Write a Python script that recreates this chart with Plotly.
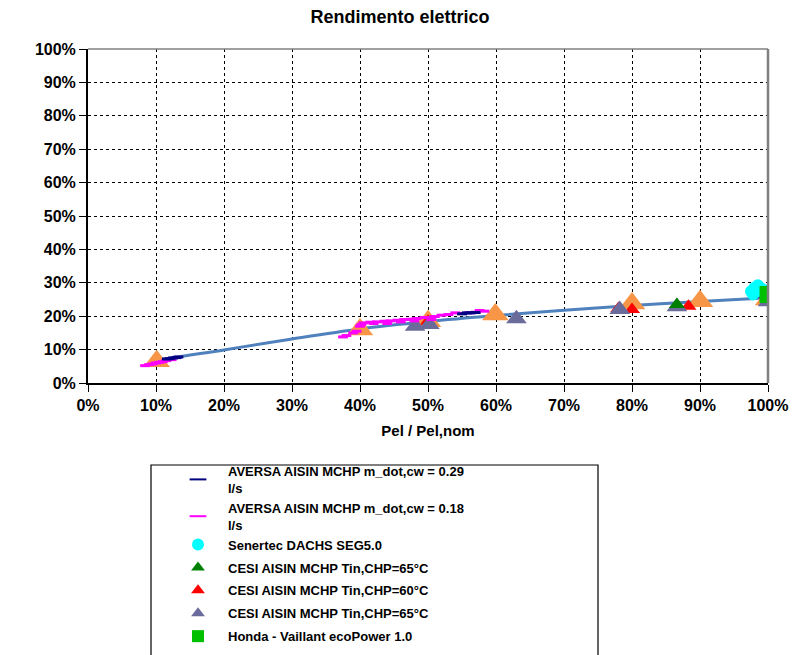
import plotly.graph_objects as go

# ---- data (percent) ----
fit_x = [8.5, 10, 20, 30, 40, 50, 60, 70, 80, 90, 100]
fit_y = [5.3, 6.5, 9.9, 13.2, 16.2, 18.4, 20.2, 21.8, 23.2, 24.4, 25.5]

orange_x = [10.1, 40, 50, 59.9, 80, 90, 100]
orange_y = [6.5, 16.0, 18.5, 20.5, 23.8, 24.5, 25.0]

aversa029_x = [11.6, 12.0, 12.5, 13.0, 13.3, 55.0, 55.7, 56.3, 57.0, 97.8, 98.2]
aversa029_y = [7.2, 7.3, 7.5, 7.6, 7.8, 20.7, 21.0, 21.0, 21.1, 25.8, 26.0]

aversa018_x = [8.4, 9.0, 9.5, 10.0, 10.5, 11.0, 11.5, 12.3,
               37.5, 38.0, 39.0, 39.5, 40.0, 40.5, 41.5, 42.5, 43.6, 44.5, 45.5,
               46.5, 47.5, 48.3, 49.5, 51.0, 52.0, 53.0, 54.0, 55.0, 56.0, 57.0, 57.6, 58.3,
               40.2, 42.0, 44.0, 46.0, 48.0, 50.5, 98.5, 99.0]
aversa018_y = [5.2, 5.5, 5.7, 6.0, 6.2, 6.4, 6.7, 7.0,
               13.8, 14.2, 15.0, 15.5, 17.0, 18.0, 18.2, 18.3, 18.5, 18.6, 18.8,
               19.0, 19.1, 19.3, 19.6, 19.9, 20.3, 20.5, 21.0, 20.8, 21.0, 21.2, 21.7, 21.5,
               17.5, 17.8, 17.8, 18.3, 18.6, 19.0, 25.8, 26.2]

senertec_x = [97.5, 97.8, 98.0, 98.5, 99.0, 99.5, 100.0, 98.3]
senertec_y = [27.5, 26.5, 28.5, 29.3, 28.3, 27.0, 27.8, 27.3]

cesi_green_x = [86.6]
cesi_green_y = [23.5]

cesi_red_x = [50.0, 78.0, 80.0, 88.3]
cesi_red_y = [18.5, 22.3, 22.0, 23.0]

cesi_slate_x = [48.1, 50.2, 63.0, 78.2, 86.6, 100.0]
cesi_slate_y = [17.0, 17.5, 19.2, 22.0, 22.8, 24.3]

honda_x = [100.0]
honda_y = [26.5]

x_ticks = [0, 10, 20, 30, 40, 50, 60, 70, 80, 90, 100]
y_ticks = [0, 10, 20, 30, 40, 50, 60, 70, 80, 90, 100]

name_a029 = "<b>AVERSA AISIN MCHP m_dot,cw = 0.29<br>l/s</b>"
name_a018 = "<b>AVERSA AISIN MCHP m_dot,cw = 0.18<br>l/s</b>"
name_sen = "<b>Senertec DACHS SEG5.0</b>"
name_green = "<b>CESI AISIN MCHP Tin,CHP=65°C</b>"
name_red = "<b>CESI AISIN MCHP Tin,CHP=60°C</b>"
name_slate = "<b>CESI AISIN MCHP Tin,CHP=65°C</b>"
name_honda = "<b>Honda - Vaillant ecoPower 1.0</b>"

FONT = "Liberation Sans, Arial, sans-serif"

fig = go.Figure()

fig.add_trace(go.Scatter(x=fit_x, y=fit_y, mode="lines", line=dict(color="#4F81BD", width=3, shape="spline"),
                         showlegend=False, hoverinfo="skip"))
fig.add_trace(go.Scatter(x=orange_x, y=orange_y, mode="markers", showlegend=False,
                         marker=dict(symbol="triangle-up", size=23, color="#F79646")))
fig.add_trace(go.Scatter(x=cesi_red_x, y=cesi_red_y, mode="markers", name=name_red, legendrank=5,
                         legendgroup="g5",
                         marker=dict(symbol="triangle-up", size=14, color="#FF0000")))
fig.add_trace(go.Scatter(x=cesi_slate_x, y=cesi_slate_y, mode="markers", name=name_slate, legendrank=6,
                         legendgroup="g6",
                         marker=dict(symbol="triangle-up", size=18, color="#6B6B9B")))
fig.add_trace(go.Scatter(x=cesi_green_x, y=cesi_green_y, mode="markers", name=name_green, legendrank=4,
                         legendgroup="g4",
                         marker=dict(symbol="triangle-up", size=14, color="#008000")))
fig.add_trace(go.Scatter(x=aversa018_x, y=aversa018_y, mode="markers", name=name_a018, legendrank=2,
                         legendgroup="g1",
                         marker=dict(symbol="line-ew", size=7, color="#FF00FF",
                                     line=dict(color="#FF00FF", width=3))))
fig.add_trace(go.Scatter(x=aversa029_x, y=aversa029_y, mode="markers", name=name_a029, legendrank=1,
                         legendgroup="g1",
                         marker=dict(symbol="line-ew", size=7, color="#000080",
                                     line=dict(color="#000080", width=3))))
fig.add_trace(go.Scatter(x=senertec_x, y=senertec_y, mode="markers", name=name_sen, legendrank=3,
                         legendgroup="g1",
                         marker=dict(symbol="circle", size=12, color="#00FFFF")))
fig.add_trace(go.Scatter(x=honda_x, y=honda_y, mode="markers", name=name_honda, legendrank=7,
                         legendgroup="g7",
                         marker=dict(symbol="square", size=17, color="#00C000")))

# screen offset of 8px (page body margin) is compensated in the margins
ML, MT, PW, PH = 80, 41, 680, 334
fig.update_layout(
    width=798, height=655,
    margin=dict(l=ML, r=798 - ML - PW, t=MT, b=655 - MT - PH, autoexpand=False),
    paper_bgcolor="white", plot_bgcolor="white",
    font=dict(family=FONT, size=13, color="black"),
    title=dict(text="<b>Rendimento elettrico</b>", x=(400 - 8) / 798, xanchor="center",
               y=1 - 9 / 655, yanchor="middle",
               font=dict(size=18, family=FONT, color="black")),
    legend=dict(x=(160 - ML) / PW, xanchor="left", y=-(448 - (MT + PH)) / PH, yanchor="top",
                borderwidth=0, bgcolor="rgba(0,0,0,0)",
                font=dict(family=FONT, size=13, color="black"),
                itemsizing="constant", tracegroupgap=3, traceorder="grouped",
                itemwidth=50),
    showlegend=True,
)

fig.update_xaxes(range=[0, 100], tickvals=x_ticks, ticktext=[f"<b>{v}%</b>" for v in x_ticks],
                 showgrid=True, gridcolor="black", griddash="dot", gridwidth=1,
                 showline=True, linecolor="black", linewidth=2, mirror=False,
                 ticks="outside", ticklen=7, tickcolor="black", zeroline=False,
                 tickfont=dict(size=16, family=FONT),
                 title=dict(text="<b>Pel / Pel,nom</b>", font=dict(size=15, family=FONT), standoff=12))
fig.update_yaxes(range=[0, 100], tickvals=y_ticks, ticktext=[f"<b>{v}%</b>" for v in y_ticks],
                 showgrid=True, gridcolor="black", griddash="dot", gridwidth=1,
                 showline=True, linecolor="black", linewidth=2,
                 ticks="outside", ticklen=7, tickcolor="black", zeroline=False,
                 tickfont=dict(size=16, family=FONT))

# plot-area top and right border (gray)
fig.add_shape(type="line", xref="paper", yref="paper", x0=0, x1=1, y0=1, y1=1,
              line=dict(color="#808080", width=1.5))
fig.add_shape(type="line", xref="paper", yref="paper", x0=1, x1=1, y0=0, y1=1,
              line=dict(color="#808080", width=2.5))
# legend frame
fig.add_shape(type="rect", xref="paper", yref="paper",
              x0=(143 - ML) / PW, x1=(590 - ML) / PW,
              y0=-(700 - (MT + PH)) / PH, y1=-(457 - (MT + PH)) / PH,
              line=dict(color="black", width=1.2), fillcolor="rgba(0,0,0,0)")

fig.write_html("out.html")
